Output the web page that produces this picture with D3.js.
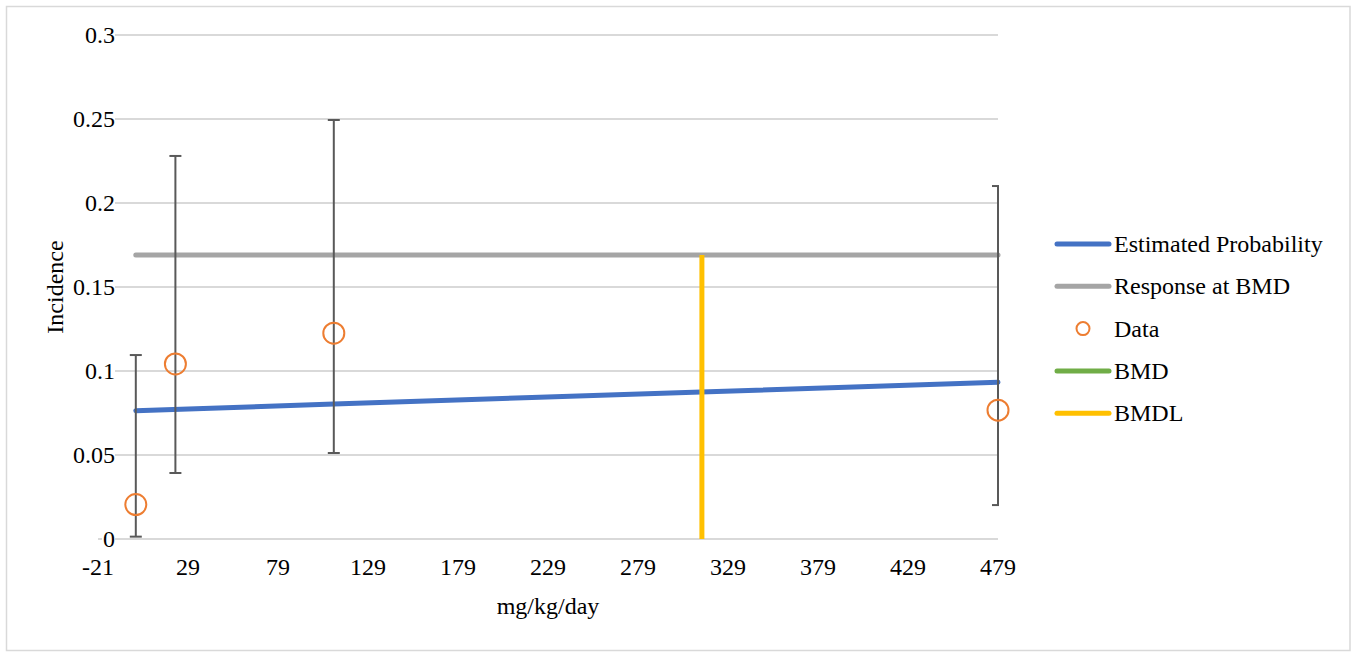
<!DOCTYPE html>
<html lang="en">
<meta charset="UTF-8">
<title>Incidence vs dose</title>
<script src="https://d3js.org/d3.v7.min.js"></script>
<style>
  body { margin: 0; background: #fff; }
  svg text { font-family: "Liberation Serif", "DejaVu Serif", serif; fill: #000; }
</style>
<body>
<div id="my_dataviz"></div>
<script>

// ---- data ----
var xTicks = [-21, 29, 79, 129, 179, 229, 279, 329, 379, 429, 479];
var yTicks = [0, 0.05, 0.1, 0.15, 0.2, 0.25, 0.3];

// fitted model curve (Estimated Probability)
var estDose = [0, 110, 220, 314, 479];
var estProb = [0.0764, 0.0803, 0.0842, 0.0875, 0.0933];

// observed data with error bars
var dataDose  = [0, 22, 110, 479];
var dataInc   = [0.0205, 0.1042, 0.1225, 0.0767];
var dataLower = [0.0014, 0.0393, 0.0512, 0.0202];
var dataUpper = [0.1095, 0.2280, 0.2494, 0.2101];

// response at BMD (horizontal) and BMDL (vertical)
var bmrDose = [0, 479];
var bmrLevel = 0.169;
var bmdlDose = 314.5;

var legendNames = ["Estimated Probability", "Response at BMD", "Data", "BMD", "BMDL"];
var legendColors = ["#4472C4", "#A5A5A5", "#ED7D31", "#70AD47", "#FFC000"];

// ---- layout ----
var W = 1352, H = 654;
var plot = {left: 98, right: 998, top: 35, bottom: 539};
var fontSize = "24px";

var svg = d3.select("#my_dataviz")
  .append("svg")
    .attr("width", W)
    .attr("height", H);

// outer chart border
svg.append("rect")
  .attr("x", 6.5).attr("y", 6.5)
  .attr("width", 1343.5).attr("height", 644)
  .attr("fill", "#fff")
  .attr("stroke", "#D9D9D9")
  .attr("stroke-width", 1.5);

var x = d3.scaleLinear().domain([-21, 479]).range([plot.left, plot.right]);
var y = d3.scaleLinear().domain([0, 0.3]).range([plot.bottom, plot.top]);

// gridlines
svg.append("g")
  .selectAll("line")
  .data(yTicks)
  .enter()
  .append("line")
    .attr("x1", plot.left)
    .attr("x2", plot.right)
    .attr("y1", function(d) { return y(d); })
    .attr("y2", function(d) { return y(d); })
    .attr("stroke", "#D9D9D9")
    .attr("stroke-width", 2);

// y tick labels (with white boxes like Excel)
var yLab = svg.append("g")
  .selectAll("g")
  .data(yTicks)
  .enter()
  .append("g");
yLab.append("text")
  .attr("x", 115)
  .attr("y", function(d) { return y(d); })
  .attr("dy", "0.33em")
  .style("text-anchor", "end")
  .style("font-size", fontSize)
  .text(function(d) { return d3.format("")(d); });
yLab.each(function() {
  var g = d3.select(this);
  var bb = g.select("text").node().getBBox();
  g.insert("rect", "text")
    .attr("x", bb.x - 1).attr("y", bb.y)
    .attr("width", bb.width + 1).attr("height", bb.height)
    .attr("fill", "#fff");
});

// x tick labels
svg.append("g")
  .selectAll("text")
  .data(xTicks)
  .enter()
  .append("text")
    .attr("x", function(d) { return x(d); })
    .attr("y", 575)
    .style("text-anchor", "middle")
    .style("font-size", fontSize)
    .text(function(d) { return d; });

// axis titles
svg.append("text")
  .attr("x", (plot.left + plot.right) / 2)
  .attr("y", 614)
  .style("text-anchor", "middle")
  .style("font-size", fontSize)
  .text("mg/kg/day");

svg.append("text")
  .attr("transform", "translate(63," + ((plot.top + plot.bottom) / 2) + ") rotate(-90)")
  .style("text-anchor", "middle")
  .style("font-size", fontSize)
  .text("Incidence");

// estimated probability line
var line = d3.line()
  .x(function(d) { return x(d[0]); })
  .y(function(d) { return y(d[1]); });

svg.append("path")
  .datum(d3.zip(estDose, estProb))
  .attr("d", line)
  .attr("fill", "none")
  .attr("stroke", legendColors[0])
  .attr("stroke-width", 5)
  .attr("stroke-linecap", "round");

// response at BMD
svg.append("path")
  .datum(bmrDose.map(function(d) { return [d, bmrLevel]; }))
  .attr("d", line)
  .attr("fill", "none")
  .attr("stroke", legendColors[1])
  .attr("stroke-width", 5)
  .attr("stroke-linecap", "round");

// error bars
var bars = svg.append("g")
  .selectAll("g")
  .data(d3.range(dataDose.length))
  .enter()
  .append("g")
    .attr("stroke", "#595959")
    .attr("stroke-width", 2);
bars.append("line")
  .attr("x1", function(i) { return x(dataDose[i]); })
  .attr("x2", function(i) { return x(dataDose[i]); })
  .attr("y1", function(i) { return y(dataLower[i]); })
  .attr("y2", function(i) { return y(dataUpper[i]); });
[dataLower, dataUpper].forEach(function(arr) {
  bars.append("line")
    .attr("x1", function(i) { return x(dataDose[i]) - 6; })
    .attr("x2", function(i) { return Math.min(x(dataDose[i]) + 6, plot.right + 1); })
    .attr("y1", function(i) { return y(arr[i]); })
    .attr("y2", function(i) { return y(arr[i]); });
});

// data points
svg.append("g")
  .selectAll("circle")
  .data(d3.range(dataDose.length))
  .enter()
  .append("circle")
    .attr("cx", function(i) { return x(dataDose[i]); })
    .attr("cy", function(i) { return y(dataInc[i]); })
    .attr("r", 10.5)
    .attr("fill", "none")
    .attr("stroke", legendColors[2])
    .attr("stroke-width", 2);

// BMDL vertical line
svg.append("line")
  .attr("x1", x(bmdlDose)).attr("x2", x(bmdlDose))
  .attr("y1", y(0)).attr("y2", y(bmrLevel))
  .attr("stroke", legendColors[4])
  .attr("stroke-width", 5);

// legend
var legend = svg.append("g")
  .selectAll("g")
  .data(legendNames)
  .enter()
  .append("g")
    .attr("transform", function(d, i) { return "translate(0," + (244 + i * 42.3) + ")"; });

legend.each(function(d, i) {
  var g = d3.select(this);
  if (d === "Data") {
    g.append("circle")
      .attr("cx", 1083).attr("cy", 0).attr("r", 6.5)
      .attr("fill", "none")
      .attr("stroke", legendColors[i])
      .attr("stroke-width", 2);
  } else {
    g.append("line")
      .attr("x1", 1057).attr("x2", 1109)
      .attr("stroke", legendColors[i])
      .attr("stroke-width", 5)
      .attr("stroke-linecap", "round");
  }
  g.append("text")
    .attr("x", 1114)
    .attr("dy", "0.33em")
    .style("font-size", fontSize)
    .text(d);
});

</script>
</body>
</html>
